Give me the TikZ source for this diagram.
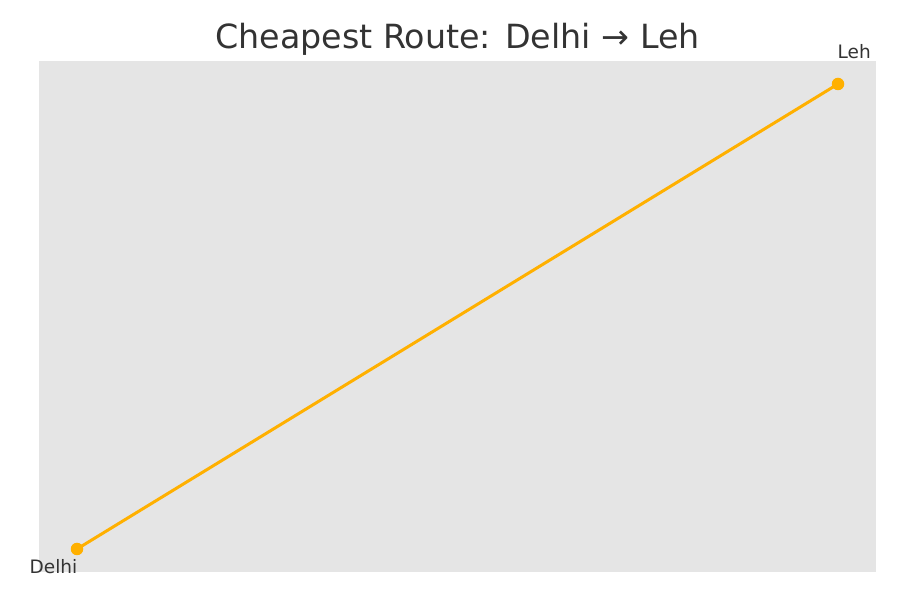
\documentclass[tikz,border=0pt]{standalone}
\usepackage{fontspec}
\setmainfont{DejaVu Sans}
\definecolor{bgray}{HTML}{E5E5E5}
\definecolor{txt}{HTML}{333333}
\definecolor{route}{HTML}{FFB000}
\begin{document}
\begin{tikzpicture}[x=1pt,y=1pt,
  city/.style={circle,fill=route,inner sep=0pt,minimum size=12.5pt},
  lbl/.style={text=txt,font=\fontsize{18.5}{21}\selectfont,inner sep=0pt},
  routeline/.style={draw=route,line width=3pt}]
\useasboundingbox (0,0) rectangle (900,600);
\fill[bgray] (39,28) rectangle (876,539);
\node[text=txt,font=\fontsize{33.3}{38}\selectfont,anchor=base,inner sep=0pt] (title) at (457.5,551) {Cheapest Route: Delhi → Leh};
\coordinate (delhi) at (77,51);
\coordinate (leh) at (838,516);
\draw[routeline] (delhi) -- (leh);
\node[city] (delhiDot) at (delhi) {};
\node[city] (lehDot) at (leh) {};
\node[lbl,anchor=base west] (lehLabel) at (837.5,541) {Leh};
\node[lbl,anchor=base east] (delhiLabel) at (77.5,26) {Delhi};
\end{tikzpicture}
\end{document}
